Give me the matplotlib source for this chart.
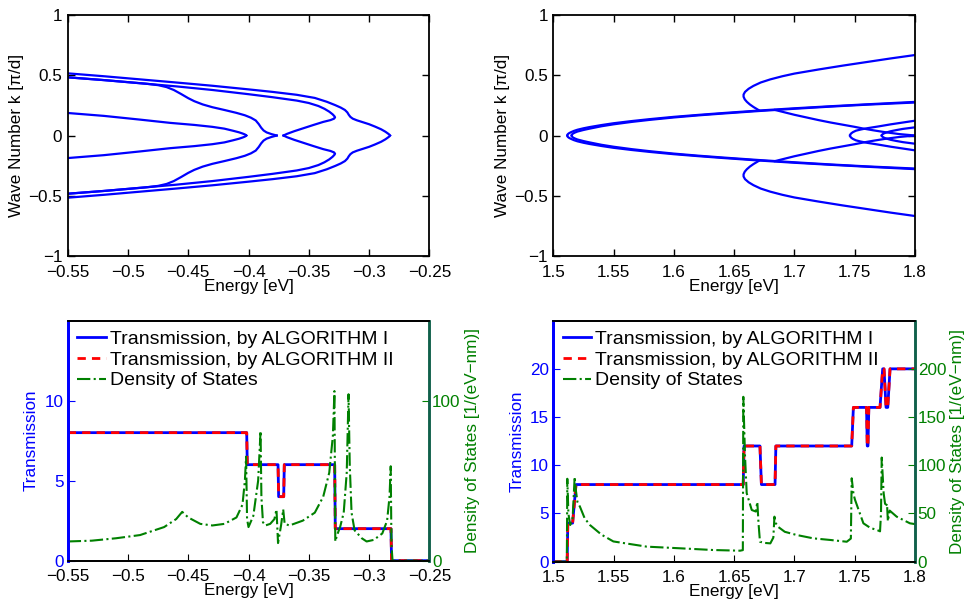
import matplotlib
matplotlib.use("Agg")
import matplotlib.pyplot as plt
from matplotlib.ticker import FuncFormatter

plt.rcParams['font.family'] = ['Liberation Sans', 'DejaVu Sans']
plt.rcParams['font.size'] = 12.3

# ---- top left: band structure (upper half, k >= 0, mirrored below) ----
bandA_E = [-0.55, -0.52, -0.49, -0.46, -0.43, -0.40, -0.38, -0.36, -0.345, -0.335, -0.328, -0.3235,
           -0.320, -0.318, -0.3168, -0.3155, -0.3135, -0.310, -0.305, -0.300, -0.295, -0.290,
           -0.2865, -0.2845, -0.2832, -0.2826]
bandA_k = [0.516, 0.492, 0.466, 0.440, 0.413, 0.383, 0.362, 0.338, 0.312, 0.280, 0.252, 0.232,
           0.212, 0.192, 0.172, 0.155, 0.140, 0.126, 0.110, 0.094, 0.074, 0.052,
           0.032, 0.018, 0.008, 0.0]
bandB_E = [-0.55, -0.52, -0.49, -0.46, -0.43, -0.40, -0.38, -0.36, -0.35, -0.342, -0.337, -0.333,
           -0.3302, -0.3287, -0.3282, -0.329, -0.332, -0.338, -0.346, -0.354, -0.362, -0.368, -0.371]
bandB_k = [0.483, 0.460, 0.434, 0.408, 0.378, 0.343, 0.318, 0.290, 0.270, 0.245, 0.222, 0.198,
           0.176, 0.160, 0.151, 0.140, 0.128, 0.113, 0.088, 0.062, 0.036, 0.014, 0.0]
bandC_E = [-0.55, -0.52, -0.50, -0.485, -0.475, -0.468, -0.462, -0.456, -0.450, -0.445, -0.438,
           -0.430, -0.420, -0.410, -0.403, -0.398, -0.394, -0.3915, -0.3895, -0.3875, -0.385,
           -0.381, -0.3766]
bandC_k = [0.483, 0.460, 0.443, 0.430, 0.418, 0.402, 0.378, 0.345, 0.310, 0.285, 0.258,
           0.235, 0.212, 0.188, 0.168, 0.148, 0.125, 0.095, 0.065, 0.042, 0.026,
           0.012, 0.0]
bandD_E = [-0.55, -0.52, -0.49, -0.465, -0.445, -0.43, -0.42, -0.413, -0.408, -0.405, -0.403, -0.4018]
bandD_k = [0.187, 0.163, 0.132, 0.105, 0.088, 0.072, 0.057, 0.040, 0.027, 0.017, 0.009, 0.0]

# ---- top right: band structure ----
main1_E = [1.5116, 1.5118, 1.5122, 1.5130, 1.5145, 1.517, 1.52, 1.525, 1.53, 1.54, 1.55, 1.565,
           1.58, 1.60, 1.62, 1.64, 1.67, 1.70, 1.73, 1.76, 1.80]
main1_k = [0.0, 0.008, 0.013, 0.019, 0.027, 0.038, 0.048, 0.060, 0.070, 0.087, 0.102, 0.120,
           0.136, 0.155, 0.171, 0.186, 0.207, 0.226, 0.243, 0.259, 0.279]
main2_E = [1.5152, 1.5154, 1.5158, 1.5166, 1.518, 1.52, 1.525, 1.53, 1.54, 1.55, 1.565,
           1.58, 1.60, 1.62, 1.64, 1.67, 1.70, 1.73, 1.76, 1.80]
main2_k = [0.0, 0.007, 0.012, 0.018, 0.025, 0.033, 0.046, 0.057, 0.077, 0.093, 0.113,
           0.130, 0.150, 0.167, 0.182, 0.203, 0.222, 0.240, 0.256, 0.274]
outer_E = [1.80, 1.78, 1.76, 1.74, 1.72, 1.70, 1.69, 1.68, 1.672, 1.666, 1.662, 1.659, 1.6578,
           1.6578, 1.6588, 1.6605, 1.663, 1.666, 1.6685, 1.6705]
outer_k = [0.668, 0.640, 0.610, 0.580, 0.548, 0.514, 0.492, 0.466, 0.440, 0.412, 0.388, 0.362, 0.340,
           0.322, 0.300, 0.280, 0.258, 0.237, 0.222, 0.210]
desc_E = [1.684, 1.692, 1.70, 1.71, 1.72, 1.73, 1.74, 1.75, 1.757, 1.765, 1.775, 1.787, 1.80]
desc_k = [0.212, 0.192, 0.172, 0.150, 0.128, 0.108, 0.090, 0.072, 0.058, 0.044, 0.028, 0.012, 0.0]
loop1_E = [1.7461, 1.7463, 1.7470, 1.7485, 1.751, 1.755, 1.76, 1.77, 1.78, 1.79, 1.80]
loop1_k = [0.0, 0.008, 0.017, 0.028, 0.040, 0.050, 0.060, 0.076, 0.093, 0.108, 0.123]
loop2_E = [1.7724, 1.7726, 1.7733, 1.7745, 1.7765, 1.780, 1.785, 1.79, 1.80]
loop2_k = [0.0, 0.006, 0.012, 0.019, 0.026, 0.036, 0.046, 0.055, 0.068]

# ---- bottom left: transmission and DOS ----
trL_E = [-0.55, -0.4015, -0.4010, -0.3755, -0.3750, -0.3708, -0.3703, -0.3285, -0.3280, -0.2818, -0.2813, -0.25]
trL_T = [8, 8, 6, 6, 4, 4, 6, 6, 2, 2, 0, 0]
dosL_E = [-0.55, -0.53, -0.51, -0.49, -0.47, -0.46, -0.455, -0.45, -0.44, -0.43, -0.42, -0.41, -0.405,
          -0.4030, -0.4020, -0.4012, -0.4000, -0.3960, -0.3920, -0.3900, -0.3893, -0.3880, -0.3860,
          -0.3820, -0.3785, -0.3768, -0.3755, -0.3730, -0.3712, -0.3700, -0.3660, -0.3550, -0.3450,
          -0.3380, -0.3330, -0.3300, -0.3287, -0.3280, -0.3265, -0.3240, -0.3210, -0.3185, -0.3170,
          -0.3160, -0.3145, -0.3120, -0.3060, -0.3020, -0.2960, -0.2890, -0.2850, -0.2830, -0.2820,
          -0.2814, -0.2805, -0.2700, -0.25]
dosL = [12, 12.5, 14, 16, 21, 26, 30.5, 27, 23, 22, 23, 27, 35,
        50, 65, 26, 21, 28, 50, 81, 40, 24, 22,
        23, 26, 32, 11, 22, 32, 23, 22, 25, 30,
        40, 55, 78, 106, 12, 16, 21, 30, 55, 104,
        60, 30, 19, 14, 12, 13, 17, 25, 40, 59,
        10, 0, 0, 0]

# ---- bottom right: transmission and DOS ----
trR_E = [1.50, 1.5115, 1.5120, 1.5160, 1.5188, 1.6575, 1.6582, 1.6714, 1.6726, 1.6839, 1.6846,
         1.7475, 1.7489, 1.7598, 1.7604, 1.7610, 1.7617, 1.7710, 1.7732, 1.7743, 1.7760, 1.7774,
         1.7793, 1.80]
trR_T = [0, 0, 4, 4, 8, 8, 12, 12, 8, 8, 12,
         12, 16, 16, 12, 12, 16, 16, 20, 20, 16, 16,
         20, 20]
dosR_E = [1.50, 1.5112, 1.5114, 1.5116, 1.5125, 1.5140, 1.5160, 1.5177, 1.5186, 1.5200, 1.5221,
          1.5260, 1.5304, 1.540, 1.5498, 1.5775, 1.6051, 1.6327, 1.6549, 1.6572, 1.6576, 1.6590,
          1.6604, 1.6646, 1.6680, 1.6692, 1.6702, 1.6714, 1.6750, 1.6800, 1.6825, 1.6834, 1.6845,
          1.6866, 1.6920, 1.7018, 1.7157, 1.730, 1.7434, 1.7468, 1.7475, 1.7490, 1.7503, 1.7572,
          1.7630, 1.7682, 1.7710, 1.7718, 1.7724, 1.7740, 1.7755, 1.7768, 1.7775, 1.7790, 1.7848,
          1.7958, 1.80]
dosR = [0, 0, 40, 86, 50, 38, 45, 88, 75, 62, 57,
        45, 38, 28, 21, 15.6, 13.9, 12.1, 11.4, 12, 171, 110,
        71, 53.6, 52, 62, 40, 20.7, 19.5, 19, 25, 46.7, 40,
        36, 31, 27.7, 24.2, 22.5, 20.7, 24, 86.5, 70, 64, 39.8,
        35, 33, 31.5, 50, 108, 71, 57, 60, 42, 53, 46.7,
        39.8, 39]

BLUE = '#0000ff'
RED = '#ff0000'
GREEN = '#008000'
TEAL = '#10604a'


def fmt(v, pos):
    return ('%g' % round(v, 6)).replace('-', '\u2212')


def style_band_axes(ax, xlim, xticks):
    ax.set_xlim(*xlim)
    ax.set_ylim(-1, 1)
    ax.set_xticks(xticks)
    ax.set_yticks([-1, -0.5, 0, 0.5, 1])
    ax.xaxis.set_major_formatter(FuncFormatter(fmt))
    ax.yaxis.set_major_formatter(FuncFormatter(fmt))
    ax.tick_params(axis='x', direction='in', length=5, width=1, top=True, pad=6.5)
    ax.tick_params(axis='y', direction='in', length=5, width=1, right=True, pad=4)
    for s in ax.spines.values():
        s.set_linewidth(1.3)
    ax.set_xlabel('Energy [eV]', labelpad=-1)
    ax.set_ylabel('Wave Number k [\u03c0/d]', labelpad=3)


fig = plt.figure(figsize=(9.66, 6.01), dpi=100)

ax1 = fig.add_axes([0.0701, 0.574, 0.3743, 0.401])
for E, k in [(bandA_E, bandA_k), (bandB_E, bandB_k), (bandC_E, bandC_k), (bandD_E, bandD_k)]:
    ax1.plot(E, k, color=BLUE, lw=1.6)
    ax1.plot(E, [-v for v in k], color=BLUE, lw=1.6)
style_band_axes(ax1, (-0.55, -0.25), [-0.55, -0.5, -0.45, -0.4, -0.35, -0.3, -0.25])

ax2 = fig.add_axes([0.5728, 0.574, 0.3744, 0.401])
for E, k in [(main1_E, main1_k), (main2_E, main2_k), (outer_E, outer_k), (desc_E, desc_k),
             (loop1_E, loop1_k), (loop2_E, loop2_k)]:
    ax2.plot(E, k, color=BLUE, lw=1.6)
    ax2.plot(E, [-v for v in k], color=BLUE, lw=1.6)
style_band_axes(ax2, (1.5, 1.8), [1.5, 1.55, 1.6, 1.65, 1.7, 1.75, 1.8])


def trans_panel(rect, E_t, T, E_d, D, xlim, xticks, tmax, tticks, dmax, dticks):
    ax = fig.add_axes(rect)
    l1, = ax.plot(E_t, T, color=BLUE, lw=2, label='Transmission, by ALGORITHM I')
    l2, = ax.plot(E_t, T, color=RED, lw=2, ls=(0, (3, 2.2)), label='Transmission, by ALGORITHM II')
    ax.set_xlim(*xlim)
    ax.set_ylim(0, tmax)
    ax.set_xticks(xticks)
    ax.set_yticks(tticks)
    ax.xaxis.set_major_formatter(FuncFormatter(fmt))
    ax.yaxis.set_major_formatter(FuncFormatter(fmt))
    ax.tick_params(axis='x', direction='in', length=5, pad=6)
    ax.tick_params(axis='y', direction='in', length=5, colors=BLUE, pad=3)
    ax.set_xlabel('Energy [eV]', labelpad=-1)
    ax.set_ylabel('Transmission', color=BLUE, labelpad=4)

    axr = ax.twinx()
    l3, = axr.plot(E_d, D, color=GREEN, lw=1.5, ls='-.', label='Density of States')
    axr.set_xlim(*xlim)
    axr.set_ylim(0, dmax)
    axr.set_yticks(dticks)
    axr.yaxis.set_major_formatter(FuncFormatter(fmt))
    axr.tick_params(axis='y', direction='in', length=5, colors=GREEN, pad=2)
    axr.set_ylabel('Density of States [1/(eV\u2212nm)]', color=GREEN, labelpad=3)

    for a in (ax, axr):
        a.spines['left'].set_color(BLUE)
        a.spines['left'].set_linewidth(2)
        a.spines['right'].set_color(TEAL)
        a.spines['right'].set_linewidth(1.8)
        a.spines['top'].set_linewidth(1.3)
        a.spines['bottom'].set_linewidth(1.3)

    axr.legend(handles=[l1, l2, l3], loc='upper left', frameon=False,
               handlelength=1.45, handletextpad=0.2, labelspacing=0.16,
               borderpad=0.2, borderaxespad=0.3, fontsize=14)
    return ax, axr


trans_panel([0.0701, 0.0671, 0.3743, 0.3994], trL_E, trL_T, dosL_E, dosL,
            (-0.55, -0.25), [-0.55, -0.5, -0.45, -0.4, -0.35, -0.3, -0.25],
            15, [0, 5, 10], 150, [0, 100])
trans_panel([0.5728, 0.0654, 0.3744, 0.4011], trR_E, trR_T, dosR_E, dosR,
            (1.5, 1.8), [1.5, 1.55, 1.6, 1.65, 1.7, 1.75, 1.8],
            25, [0, 5, 10, 15, 20], 250, [0, 50, 100, 150, 200])

fig.savefig('out.png', dpi=100)
